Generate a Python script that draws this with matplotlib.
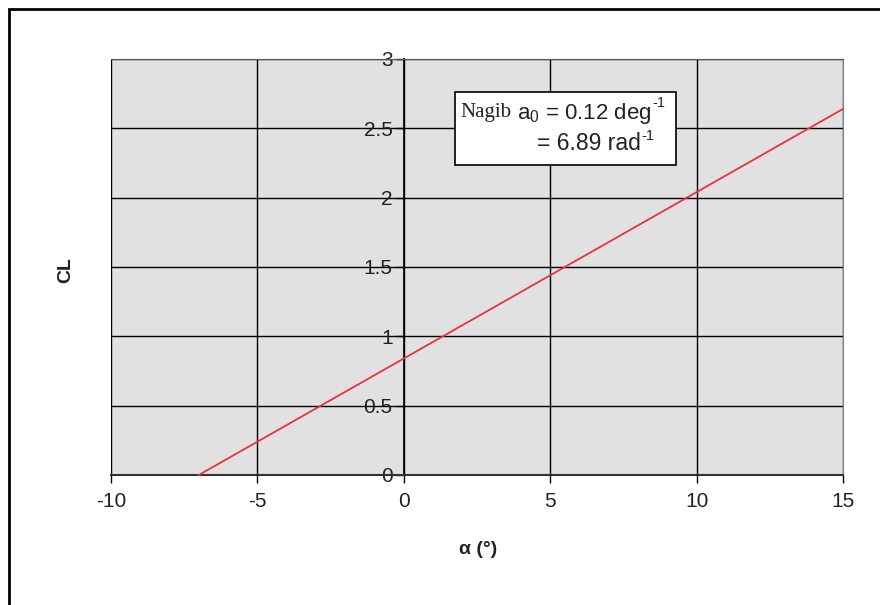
import matplotlib
matplotlib.use("Agg")
import matplotlib.pyplot as plt
from matplotlib.patches import Rectangle

alpha_deg = [-7, 15]
cl_values = [0.0, 2.64]
x_ticks = [-10, -5, 0, 5, 10, 15]
x_tick_labels = ["-10", "-5", "0", "5", "10", "15"]
y_ticks = [0, 0.5, 1, 1.5, 2, 2.5, 3]
y_tick_labels = ["0", "0.5", "1", "1.5", "2", "2.5", "3"]

plt.rcParams['font.family'] = ['Liberation Sans', 'DejaVu Sans']
plt.rcParams['axes.unicode_minus'] = False
plt.rcParams['mathtext.fontset'] = 'custom'
plt.rcParams['mathtext.rm'] = 'Liberation Sans'
plt.rcParams['mathtext.it'] = 'Liberation Sans:italic'
plt.rcParams['mathtext.bf'] = 'Liberation Sans:bold'

W, H = 880, 605
fig = plt.figure(figsize=(W / 100, H / 100), dpi=100)

def fx(px):
    return px / W

def fy(py):
    return 1 - py / H

# outer frame (left and top edges visible)
fig.patches.append(Rectangle((fx(9), fy(620)), fx(900) - fx(9), fy(9) - fy(620),
                             transform=fig.transFigure, fill=False,
                             edgecolor='black', linewidth=2, zorder=0))

left, right, top, bottom = 111, 843, 59, 475
ax = fig.add_axes([fx(left), fy(bottom), fx(right) - fx(left), fy(top) - fy(bottom)])
ax.set_facecolor('#e1e1e1')
ax.set_xlim(-10, 15)
ax.set_ylim(0, 3)

ax.plot(alpha_deg, cl_values, color='#e8333d', linewidth=1.3, zorder=3, clip_on=False)

ax.set_axisbelow(True)
ax.grid(True, color='black', linewidth=1.0)
ax.set_xticks(x_ticks)
ax.set_xticklabels(x_tick_labels)
ax.set_yticks(y_ticks)
ax.set_yticklabels(y_tick_labels)

ax.spines['left'].set_position(('data', 0))
ax.spines['left'].set_color('black')
ax.spines['left'].set_linewidth(1.2)
ax.spines['bottom'].set_color('#333333')
ax.spines['bottom'].set_linewidth(1.5)
ax.spines['right'].set_color('#888888')
ax.spines['top'].set_color('#555555')

ax.tick_params(axis='x', direction='out', length=6, width=1, colors='black',
               labelsize=15, pad=6, labelcolor='#222222')
ax.tick_params(axis='y', direction='out', length=6, width=1, colors='black',
               labelsize=15, pad=2, labelcolor='#222222')

fig.text(fx(478), fy(550), r"α (°)", fontsize=14, fontweight='bold',
         ha='center', va='center', color='#222222')
fig.text(fx(66), fy(270), "CL", fontsize=14, fontweight='bold', rotation=90,
         ha='center', va='center', color='#222222')

# annotation box
fig.patches.append(Rectangle((fx(455), fy(165)), fx(676) - fx(455), fy(92) - fy(165),
                             transform=fig.transFigure, facecolor='white',
                             edgecolor='black', linewidth=1.2, zorder=5))
fig.text(fx(460), fy(113), "Nagib", family='Liberation Serif', fontsize=15,
         ha='left', va='center', color='#222222', zorder=6)
t1 = fig.text(fx(517), fy(113), r"$\mathrm{a}_0$ = 0.12 deg", fontsize=16,
              ha='left', va='center', color='#222222', zorder=6)
t2 = fig.text(fx(537), fy(144), "= 6.89 rad", fontsize=16.5,
              ha='left', va='center', color='#222222', zorder=6)
for t, yrel in ((t1, 0.9), (t2, 0.85)):
    fig.texts.append(matplotlib.text.Annotation(
        "-1", xy=(1.0, yrel), xycoords=t, xytext=(0.5, 0), textcoords='offset points',
        fontsize=10.5, ha='left', va='center', color='#222222', zorder=6))
    fig.texts[-1].set_figure(fig)

fig.savefig("out.png", dpi=100)
